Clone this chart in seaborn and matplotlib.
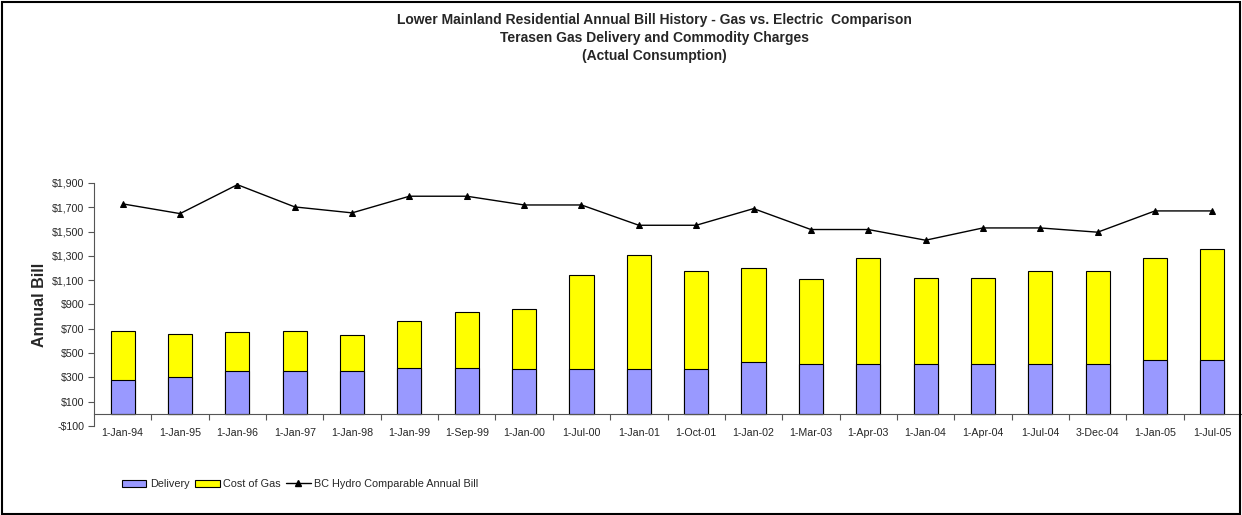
import pandas as pd
import seaborn as sns
import matplotlib.pyplot as plt
import matplotlib.ticker as ticker
from matplotlib.patches import Patch, Rectangle
from matplotlib.lines import Line2D

dates = ['1-Jan-94', '1-Jan-95', '1-Jan-96', '1-Jan-97', '1-Jan-98', '1-Jan-99',
         '1-Sep-99', '1-Jan-00', '1-Jul-00', '1-Jan-01', '1-Oct-01', '1-Jan-02',
         '1-Mar-03', '1-Apr-03', '1-Jan-04', '1-Apr-04', '1-Jul-04', '3-Dec-04',
         '1-Jan-05', '1-Jul-05']
delivery = [275, 305, 355, 349, 349, 374, 374, 369, 369, 369, 369, 429,
            412, 412, 412, 412, 412, 412, 442, 442]
cost_of_gas = [405, 350, 320, 334, 299, 389, 463, 498, 775, 939, 805, 772,
               696, 872, 710, 710, 762, 762, 842, 916]
hydro = [1728, 1648, 1886, 1703, 1654, 1791, 1791, 1719, 1719, 1552, 1552, 1689,
         1517, 1517, 1429, 1530, 1530, 1495, 1670, 1670]

df = pd.DataFrame({'Date': dates, 'Delivery': delivery, 'Cost of Gas': cost_of_gas,
                   'Hydro': hydro})
df['Total'] = df['Delivery'] + df['Cost of Gas']

sns.set_style('white')
plt.rcParams['font.family'] = ['Liberation Sans', 'DejaVu Sans']

fig = plt.figure(figsize=(12.42, 5.15), dpi=100)
ax = fig.add_axes([0.0757, 0.1728, 0.9235, 0.4719])

blue = '#9999FF'
yellow = '#FFFF00'

# stacked bars: total (yellow) first, delivery (blue) drawn over it
sns.barplot(data=df, x='Date', y='Total', color=yellow, width=0.42, saturation=1,
            edgecolor='black', linewidth=0.8, ax=ax)
sns.barplot(data=df, x='Date', y='Delivery', color=blue, width=0.42, saturation=1,
            edgecolor='black', linewidth=0.8, ax=ax)
sns.pointplot(data=df, x='Date', y='Hydro', color='black', markers='^',
              linestyles='-', linewidth=1, markersize=4, ax=ax)

ax.set_ylim(-100, 1900)
ax.set_xlim(-0.5, len(dates) - 0.5)
ax.set_yticks(range(-100, 2000, 200))
ax.yaxis.set_major_formatter(ticker.FuncFormatter(
    lambda v, p: f'-${abs(v):,.0f}' if v < 0 else f'${v:,.0f}'))

ax.spines['top'].set_visible(False)
ax.spines['right'].set_visible(False)
ax.spines['bottom'].set_position(('data', 0))
ax.spines['bottom'].set_color('#555555')
ax.spines['left'].set_color('#555555')

ax.tick_params(axis='y', which='major', left=True, length=4, width=0.8,
               labelsize=7.7, color='#555555', pad=3)
ax.tick_params(axis='x', which='major', bottom=False, labelsize=7.7, pad=7)
ax.set_xticks([i + 0.5 for i in range(len(dates) - 1)], minor=True)
ax.tick_params(axis='x', which='minor', bottom=True, length=4, width=0.8,
               color='#555555', direction='out')
ax.set_xlabel('')
ax.set_ylabel('Annual Bill', fontsize=11.5, fontweight='bold', labelpad=3.5)

fig.text(0.527, 0.975,
         'Lower Mainland Residential Annual Bill History - Gas vs. Electric  Comparison\n'
         'Terasen Gas Delivery and Commodity Charges\n(Actual Consumption)',
         ha='center', va='top', fontsize=10, fontweight='bold', linespacing=1.35)

handles = [Patch(facecolor=blue, edgecolor='black', linewidth=0.8),
           Patch(facecolor=yellow, edgecolor='black', linewidth=0.8),
           Line2D([], [], color='black', marker='^', markersize=4, linewidth=1)]
fig.legend(handles, ['Delivery', 'Cost of Gas', 'BC Hydro Comparable Annual Bill'],
           loc='center', bbox_to_anchor=(0.2415, 0.06), ncol=3, frameon=False,
           fontsize=7.8, handlelength=2.3, handleheight=0.65, columnspacing=0.5,
           handletextpad=0.3)

fig.patches.append(Rectangle((0.002, 0.002), 0.996, 0.994, transform=fig.transFigure,
                             fill=False, edgecolor='black', linewidth=1.5))

plt.savefig('out.png', dpi=100)
